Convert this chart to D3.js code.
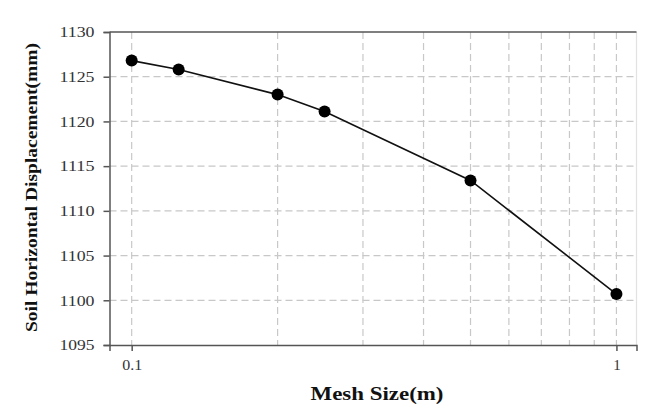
<!DOCTYPE html>
<html><head><meta charset="utf-8">
<script src="https://cdn.jsdelivr.net/npm/d3@7"></script>
<style>body{margin:0;background:#fff}svg{display:block}</style>
</head><body>
<svg id="c" width="665" height="412"></svg>
<script>
const meshSize = [0.1, 0.125, 0.2, 0.25, 0.5, 1.0];
const displacement = [1126.8, 1125.8, 1123.0, 1121.1, 1113.4, 1100.7];
const yTicks = [1095, 1100, 1105, 1110, 1115, 1120, 1125, 1130];
const xTickLabels = [0.1, 1];
const xGrid = [0.1, 0.2, 0.3, 0.4, 0.5, 0.6, 0.7, 0.8, 0.9, 1];

const svg = d3.select("#c");
const L = 109.5, R = 636.5, T = 32, B = 345;
const x = d3.scaleLog().domain([0.09, 1.1]).range([L, R]);
const y = d3.scaleLinear().domain([1095, 1130]).range([B, T]);
const serif = "'Liberation Serif','Times New Roman',serif";

// grid
const g = svg.append("g");
g.selectAll("line.h").data(yTicks.filter(v => v > 1095 && v < 1130)).join("line")
  .attr("x1", L).attr("x2", R).attr("y1", d => y(d)).attr("y2", d => y(d))
  .attr("stroke", "#c8c8c8").attr("stroke-width", 1.2).attr("stroke-dasharray", "7,4");
g.selectAll("line.v").data(xGrid).join("line")
  .attr("x1", d => x(d)).attr("x2", d => x(d)).attr("y1", T).attr("y2", B)
  .attr("stroke", "#c8c8c8").attr("stroke-width", 1.2).attr("stroke-dasharray", "7,4");

// frame
svg.append("line").attr("x1", R).attr("x2", R).attr("y1", T).attr("y2", B).attr("stroke", "#e2e2e2").attr("stroke-width", 1.2);
svg.append("line").attr("x1", L).attr("x2", R).attr("y1", T).attr("y2", T).attr("stroke", "#555").attr("stroke-width", 1.5);

// axes
const yAxis = svg.append("g").attr("transform", `translate(${L},0)`)
  .call(d3.axisLeft(y).tickValues(yTicks).tickFormat(d3.format("d")).tickSize(6).tickPadding(9));
const xAxis = svg.append("g").attr("transform", `translate(0,${B})`)
  .call(d3.axisBottom(x).tickValues(xTickLabels).tickFormat(d => String(d)).tickSize(6).tickPadding(8));
[yAxis, xAxis].forEach(a => {
  a.select(".domain").attr("stroke", "#555").attr("stroke-width", 1.5);
  a.selectAll(".tick line").attr("stroke", "#555").attr("stroke-width", 1.5);
  a.selectAll(".tick text").attr("font-family", serif).attr("font-size", 15).attr("fill", "#333");
});
yAxis.selectAll(".tick text").attr("textLength", 35).attr("lengthAdjust", "spacingAndGlyphs");
xAxis.selectAll(".tick text").filter(d => d === 0.1).attr("textLength", 20).attr("lengthAdjust", "spacingAndGlyphs");

// line + markers
const pts = meshSize.map((m, i) => [m, displacement[i]]);
svg.append("path").datum(pts)
  .attr("d", d3.line().x(d => x(d[0])).y(d => y(d[1])))
  .attr("fill", "none").attr("stroke", "#111").attr("stroke-width", 1.6);
svg.selectAll("circle").data(pts).join("circle")
  .attr("cx", d => x(d[0])).attr("cy", d => y(d[1])).attr("r", 6).attr("fill", "#000");

// titles
svg.append("text").attr("x", 377).attr("y", 400).attr("text-anchor", "middle")
  .attr("font-family", serif).attr("font-weight", "bold").attr("font-size", 18).attr("fill", "#111")
  .attr("textLength", 133).attr("lengthAdjust", "spacingAndGlyphs")
  .text("Mesh Size(m)");
svg.append("text").attr("transform", "translate(37,187.5) rotate(-90)").attr("text-anchor", "middle")
  .attr("font-family", serif).attr("font-weight", "bold").attr("font-size", 17).attr("fill", "#111")
  .attr("textLength", 289).attr("lengthAdjust", "spacingAndGlyphs")
  .text("Soil Horizontal Displacement(mm)");
</script>
</body></html>
